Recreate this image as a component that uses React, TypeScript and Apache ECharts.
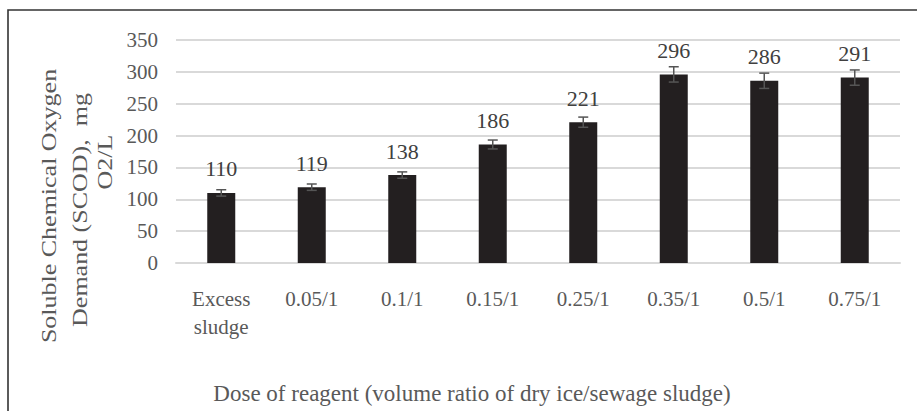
import React, { useEffect, useRef } from "react";
import * as echarts from "echarts";

const categories = ["Excess\nsludge", "0.05/1", "0.1/1", "0.15/1", "0.25/1", "0.35/1", "0.5/1", "0.75/1"];
const scodValues = [110, 119, 138, 186, 221, 296, 286, 291];
const errorValues = [5, 5, 5, 7, 8, 12, 12, 12];
const yTicks = { min: 0, max: 350, interval: 50 };
const yNameLines = ["Soluble Chemical Oxygen", "Demand (SCOD),  mg", "O2/L"];
const xName = "Dose of reagent (volume ratio of dry ice/sewage sludge)";

const FONT = "'Liberation Serif', 'Times New Roman', serif";

export default function App() {
  const ref = useRef<HTMLDivElement>(null);
  useEffect(() => {
    if (!ref.current) return;
    const chart = echarts.init(ref.current, null, { renderer: "svg" });
    const errData = scodValues.map((v, i) => [i, v - errorValues[i], v + errorValues[i]]);
    chart.setOption({
      animation: false,
      backgroundColor: "#ffffff",
      grid: { left: 176, right: 17, top: 40, bottom: 148 },
      xAxis: {
        type: "category",
        data: categories,
        axisLine: { lineStyle: { color: "#d9d9d9", width: 2 } },
        axisTick: { show: false },
        axisLabel: {
          interval: 0,
          margin: 22,
          fontFamily: FONT,
          fontSize: 21,
          lineHeight: 28,
          color: "#595959",
          verticalAlign: "top",
        },
      },
      yAxis: {
        type: "value",
        min: yTicks.min,
        max: yTicks.max,
        interval: yTicks.interval,
        axisLine: { show: false },
        axisTick: { show: false },
        splitLine: { lineStyle: { color: "#d9d9d9", width: 2 } },
        axisLabel: { margin: 18, fontFamily: FONT, fontSize: 21, color: "#595959" },
      },
      series: [
        {
          type: "bar",
          data: scodValues,
          barWidth: 28,
          itemStyle: { color: "#231f20" },
          label: {
            show: true,
            position: "top",
            distance: 13,
            fontFamily: FONT,
            fontSize: 22,
            color: "#404040",
          },
        },
        {
          type: "custom",
          data: errData,
          z: 10,
          renderItem: (params: any, api: any) => {
            const x = api.value(0);
            const lo = api.coord([x, api.value(1)]);
            const hi = api.coord([x, api.value(2)]);
            const hw = 5;
            const style = { stroke: "#555555", lineWidth: 1.5 };
            return {
              type: "group",
              children: [
                { type: "line", shape: { x1: lo[0], y1: lo[1], x2: hi[0], y2: hi[1] }, style },
                { type: "line", shape: { x1: lo[0] - hw, y1: lo[1], x2: lo[0] + hw, y2: lo[1] }, style },
                { type: "line", shape: { x1: hi[0] - hw, y1: hi[1], x2: hi[0] + hw, y2: hi[1] }, style },
              ],
            };
          },
        },
      ],
      graphic: [
        {
          type: "rect",
          shape: { x: 8, y: 10, width: 1000, height: 1000 },
          style: { fill: "none", stroke: "#333333", lineWidth: 1.6 },
          silent: true,
        },
        {
          type: "text",
          x: 49,
          y: 206,
          rotation: Math.PI / 2,
          scaleY: 0.8,
          style: { text: yNameLines[0], fontFamily: FONT, fontSize: 26, fill: "#595959", align: "center", verticalAlign: "middle" },
        },
        {
          type: "text",
          x: 80,
          y: 210,
          rotation: Math.PI / 2,
          scaleY: 0.8,
          style: { text: yNameLines[1], fontFamily: FONT, fontSize: 26, fill: "#595959", align: "center", verticalAlign: "middle" },
        },
        {
          type: "text",
          x: 105,
          y: 162,
          rotation: Math.PI / 2,
          scaleY: 0.8,
          style: { text: yNameLines[2], fontFamily: FONT, fontSize: 26, fill: "#595959", align: "center", verticalAlign: "middle" },
        },
        {
          type: "text",
          x: 472,
          y: 393,
          style: { text: xName, fontFamily: FONT, fontSize: 23, fill: "#595959", align: "center", verticalAlign: "middle" },
        },
      ],
    });
    return () => chart.dispose();
  }, []);
  return <div ref={ref} style={{ position: "fixed", left: 0, top: 0, width: 917, height: 411 }} />;
}
